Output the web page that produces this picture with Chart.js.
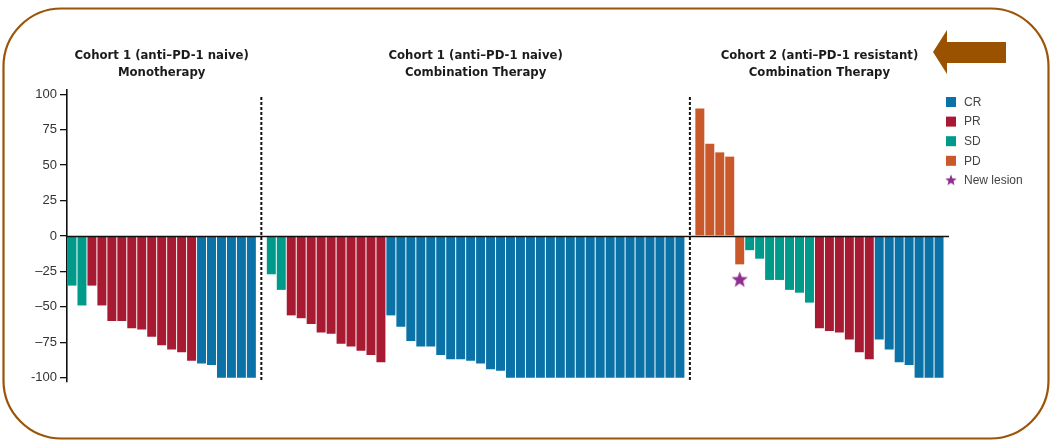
<!DOCTYPE html>
<html>
<head>
<meta charset="utf-8">
<script src="https://cdn.jsdelivr.net/npm/chart.js@4/dist/chart.umd.min.js"></script>
<style>
  html, body { margin: 0; padding: 0; background: #fff; }
  #wrap { position: relative; width: 1050px; height: 441px; }
</style>
</head>
<body>
<div id="wrap"><canvas id="chart"></canvas></div>
<script>
// Best change in tumour size (%) per patient, one bar each, sorted within each panel
const groupTitles = [
  ['Cohort 1 (anti\u2013PD-1 naive)', 'Monotherapy'],
  ['Cohort 1 (anti\u2013PD-1 naive)', 'Combination Therapy'],
  ['Cohort 2 (anti\u2013PD-1 resistant)', 'Combination Therapy']
];

const monoValues = [-35, -49, -35, -49, -60, -60, -65, -66, -71, -77, -80, -82, -88,
                    -90, -91, -100, -100, -100, -100];
const monoResponse = ['SD', 'SD', 'PR', 'PR', 'PR', 'PR', 'PR', 'PR', 'PR', 'PR', 'PR', 'PR', 'PR',
                      'CR', 'CR', 'CR', 'CR', 'CR', 'CR'];

const comboValues = [-27, -38,
                     -56, -58, -62, -68, -69, -76, -78, -81, -84, -89,
                     -56, -64, -74, -78, -78, -84, -87, -87, -88, -90, -94, -95,
                     -100, -100, -100, -100, -100, -100, -100, -100, -100,
                     -100, -100, -100, -100, -100, -100, -100, -100, -100];
const comboResponse = ['SD', 'SD',
                       'PR', 'PR', 'PR', 'PR', 'PR', 'PR', 'PR', 'PR', 'PR', 'PR',
                       'CR', 'CR', 'CR', 'CR', 'CR', 'CR', 'CR', 'CR', 'CR', 'CR', 'CR', 'CR',
                       'CR', 'CR', 'CR', 'CR', 'CR', 'CR', 'CR', 'CR', 'CR',
                       'CR', 'CR', 'CR', 'CR', 'CR', 'CR', 'CR', 'CR', 'CR'];

const resistantValues = [90, 65, 59, 56, -20,
                         -10, -16, -31, -31, -38, -40, -47,
                         -65, -67, -68, -73, -82, -87,
                         -73, -80, -89, -91, -100, -100, -100];
const resistantResponse = ['PD', 'PD', 'PD', 'PD', 'PD',
                           'SD', 'SD', 'SD', 'SD', 'SD', 'SD', 'SD',
                           'PR', 'PR', 'PR', 'PR', 'PR', 'PR',
                           'CR', 'CR', 'CR', 'CR', 'CR', 'CR', 'CR'];

// patient with a new lesion: panel index, bar index within the panel, marker height
const newLesionLabel = 'New lesion';
const newLesionPanel = 2;
const newLesionBar = 4;
const newLesionY = -31;

const responseTypes = ['CR', 'PR', 'SD', 'PD'];
const responseColors = { CR: '#0a72a6', PR: '#a71a31', SD: '#009a8b', PD: '#c9582a' };
const lesionColor = '#8e2f8f';

const yTickValues = [100, 75, 50, 25, 0, -25, -50, -75, -100];
const yTickLabels = ['100', '75', '50', '25', '0', '\u201325', '\u201350', '\u201375', '-100'];

// ---- build panel positions on a shared index axis (one empty slot between panels)
const panels = [
  { values: monoValues, response: monoResponse },
  { values: comboValues, response: comboResponse },
  { values: resistantValues, response: resistantResponse }
];
let cursor = 0;
panels.forEach(p => {
  p.start = cursor;
  p.end = cursor + p.values.length - 1;
  cursor = p.end + 2;
});
const lastIndex = panels[panels.length - 1].end;

const datasets = responseTypes.map(type => {
  const pts = [];
  panels.forEach(p => p.values.forEach((v, j) => {
    if (p.response[j] === type) pts.push({ x: p.start + j, y: v });
  }));
  return {
    type: 'bar',
    label: type,
    data: pts,
    backgroundColor: responseColors[type],
    borderWidth: 0,
    grouped: false,
    barPercentage: 0.9,
    categoryPercentage: 1.0
  };
});

function makeStar(outer, inner, color) {
  const c = document.createElement('canvas');
  const s = Math.ceil(outer * 2 + 2);
  c.width = s; c.height = s;
  const g = c.getContext('2d');
  g.beginPath();
  for (let k = 0; k < 10; k++) {
    const r = k % 2 === 0 ? outer : inner;
    const a = -Math.PI / 2 + k * Math.PI / 5;
    const px = s / 2 + r * Math.cos(a), py = s / 2 + r * Math.sin(a);
    k === 0 ? g.moveTo(px, py) : g.lineTo(px, py);
  }
  g.closePath();
  g.fillStyle = color;
  g.fill();
  return c;
}
const starBig = makeStar(8.5, 3.6, lesionColor);
const starSmall = makeStar(6, 2.6, lesionColor);

datasets.push({
  type: 'line',
  label: newLesionLabel,
  data: [{ x: panels[newLesionPanel].start + newLesionBar, y: newLesionY }],
  showLine: false,
  pointStyle: starBig,
  borderColor: lesionColor,
  backgroundColor: lesionColor
});

// ---- decorations: zero line, panel separators, titles, legend, frame, arrow
const decorations = {
  id: 'decorations',
  afterDatasetsDraw(chart) {
    const { ctx, chartArea: a, scales: { x, y } } = chart;
    ctx.save();
    // zero reference line
    ctx.strokeStyle = '#111';
    ctx.lineWidth = 1.6;
    const y0 = Math.round(y.getPixelForValue(0)) + 0.5;
    ctx.beginPath();
    ctx.moveTo(a.left, y0);
    ctx.lineTo(a.right, y0);
    ctx.stroke();
    // dotted separators between panels
    ctx.setLineDash([3, 2]);
    ctx.lineWidth = 2;
    for (let i = 0; i < panels.length - 1; i++) {
      const xs = x.getPixelForValue((panels[i].end + panels[i + 1].start) / 2);
      ctx.beginPath();
      ctx.moveTo(xs, y.getPixelForValue(98));
      ctx.lineTo(xs, a.bottom);
      ctx.stroke();
    }
    ctx.restore();
  },
  afterDraw(chart) {
    const { ctx, scales: { x } } = chart;
    ctx.save();
    // panel titles
    ctx.fillStyle = '#1b1b1b';
    ctx.font = 'bold 13px "DejaVu Sans Condensed", "Liberation Sans Narrow", sans-serif';
    ctx.textAlign = 'center';
    ctx.textBaseline = 'middle';
    panels.forEach((p, i) => {
      const cx = (x.getPixelForValue(p.start - 0.5) + x.getPixelForValue(p.end + 0.5)) / 2;
      ctx.fillText(groupTitles[i][0], cx, 56);
      ctx.fillText(groupTitles[i][1], cx, 73);
    });
    // legend
    ctx.textAlign = 'left';
    ctx.font = '12px "Liberation Sans", Arial, sans-serif';
    const lx = 946, ly = 102, step = 19.6;
    responseTypes.forEach((t, i) => {
      ctx.fillStyle = responseColors[t];
      ctx.fillRect(lx, ly + i * step - 5, 10, 10);
      ctx.fillStyle = '#444';
      ctx.fillText(t, lx + 18, ly + i * step + 0.5);
    });
    const sy = ly + responseTypes.length * step;
    ctx.drawImage(starSmall, lx + 5 - starSmall.width / 2, sy - starSmall.height / 2);
    ctx.fillStyle = '#444';
    ctx.fillText(newLesionLabel, lx + 18, sy + 0.5);
    // rounded frame
    ctx.strokeStyle = '#9a5509';
    ctx.lineWidth = 2.2;
    ctx.beginPath();
    ctx.roundRect(3.5, 8.5, 1045, 430, 58);
    ctx.stroke();
    // pointer arrow
    ctx.fillStyle = '#9a5200';
    ctx.beginPath();
    ctx.moveTo(933, 52);
    ctx.lineTo(947, 30);
    ctx.lineTo(947, 42);
    ctx.lineTo(1006, 42);
    ctx.lineTo(1006, 63);
    ctx.lineTo(947, 63);
    ctx.lineTo(947, 74);
    ctx.closePath();
    ctx.fill();
    ctx.restore();
  }
};

new Chart(document.getElementById('chart'), {
  type: 'bar',
  data: { datasets },
  options: {
    responsive: true,
    maintainAspectRatio: false,
    animation: false,
    events: [],
    layout: { padding: { left: 0, right: 101, top: 90, bottom: 59 } },
    plugins: { legend: { display: false }, tooltip: { enabled: false } },
    scales: {
      x: {
        type: 'linear',
        display: false,
        offset: false,
        min: -0.5,
        max: lastIndex + 1
      },
      y: {
        min: -103,
        max: 103,
        afterBuildTicks: s => { s.ticks = yTickValues.map(v => ({ value: v })); },
        afterFit: s => { s.width = 67; },
        ticks: {
          callback: v => yTickLabels[yTickValues.indexOf(v)],
          color: '#333',
          padding: 3,
          font: { family: '"Liberation Sans", Arial, sans-serif', size: 13 }
        },
        grid: { drawOnChartArea: false, tickLength: 7, color: '#111', lineWidth: 1.3 },
        border: { color: '#111', width: 1.6 }
      }
    }
  },
  plugins: [decorations]
});
</script>
</body>
</html>
